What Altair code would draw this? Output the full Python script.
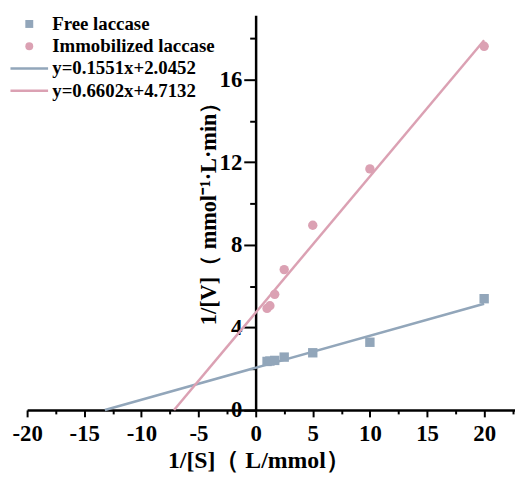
import altair as alt
import pandas as pd

# ---- data ----
inv_s = [1, 1.25, 1.67, 2.5, 5, 10, 20]
free_inv_v = [2.35, 2.37, 2.40, 2.56, 2.77, 3.28, 5.39]
imm_inv_v = [4.92, 5.05, 5.60, 6.80, 8.95, 11.68, 17.62]

free_name = "Free laccase"
imm_name = "Immobilized laccase"
free_fit = "y=0.1551x+2.0452"
imm_fit = "y=0.6602x+4.7132"

free_line_x = [-13.19, 20]
free_line_y = [0, 5.147]
imm_line_x = [-7.14, 20]
imm_line_y = [0, 17.917]

series_names = [free_name, imm_name, free_fit, imm_fit]
blue = "#92A6BA"
pink = "#DBA1B3"
series_colors = [blue, pink, blue, pink]

x_ticks = [-20 + 2.5 * i for i in range(18)]
y_ticks = [0, 2, 4, 6, 8, 10, 12, 14, 16, 18]

x_domain = [-20, 22.7]
y_domain = [0, 19.12]

W = 493
H = 398.7
x0_px = W * (0 - x_domain[0]) / (x_domain[1] - x_domain[0])

pts = pd.DataFrame({
    "x": inv_s + inv_s,
    "y": free_inv_v + imm_inv_v,
    "series": [free_name] * len(inv_s) + [imm_name] * len(inv_s),
})
lines = pd.DataFrame({
    "x": free_line_x + imm_line_x,
    "y": free_line_y + imm_line_y,
    "series": [free_fit] * 2 + [imm_fit] * 2,
})

FONT = "Liberation Serif"

xscale = alt.Scale(domain=x_domain, nice=False, zero=False)
yscale = alt.Scale(domain=y_domain, nice=False, zero=False)

xaxis = alt.Axis(
    values=x_ticks,
    labelExpr="datum.value % 5 === 0 ? '' + datum.value : ''",
    tickSize={"condition": {"test": "datum.value % 5 === 0", "value": 7}, "value": 4},
    tickWidth=2, tickColor="black",
    domainWidth=2.5, domainColor="black",
    labelFont=FONT, labelFontWeight="bold", labelFontSize=23, labelColor="black",
    labelPadding=6, labelFlush=False, labelOverlap=False,
    grid=False,
    title="1/[S]（ L/mmol）",
    titleFont=FONT, titleFontWeight="bold", titleFontSize=24, titleColor="black",
    titleX=233.7, titleY=58, titleBaseline="alphabetic",
)

yaxis = alt.Axis(
    values=y_ticks,
    offset=-x0_px,
    labelExpr="datum.value % 4 === 0 ? '' + datum.value : ''",
    tickSize={"condition": {"test": "datum.value % 4 === 0", "value": 12}, "value": 6},
    tickWidth=2, tickColor="black",
    domainWidth=2.5, domainColor="black",
    labelFont=FONT, labelFontWeight="bold", labelFontSize=23, labelColor="black",
    labelPadding=2, labelFlush=False, labelOverlap=False,
    grid=False,
    title="1/[V]（ mmol⁻¹·L·min）",
    titleFont=FONT, titleFontWeight="bold", titleFontSize=22.5, titleColor="black",
    titleX=-48, titleY=194.5, titleBaseline="middle", titleAngle=270,
)

is_fit = "indexof(datum.value, 'y=') === 0"
legend = alt.Legend(
    title=None,
    orient="none", legendX=-7.3, legendY=-0.8,
    labelFont=FONT, labelFontWeight="bold", labelFontSize=19, labelColor="black",
    labelLimit=400,
    labelOffset=13.7, rowPadding=2.5, symbolSize=64, symbolStrokeWidth=2.5,
    symbolOpacity=1,
    symbolType={"expr": f"{is_fit} ? 'M-4.75,0H4.75' : (datum.value === '{free_name}' ? 'square' : 'circle')"},
    symbolStrokeColor={"expr": f"{is_fit} ? scale('color', datum.value) : 'transparent'"},
)

color_scale = alt.Scale(domain=series_names, range=series_colors)

line_layer = alt.Chart(lines).mark_line(strokeWidth=2.5).encode(
    x=alt.X("x:Q", scale=xscale, axis=xaxis),
    y=alt.Y("y:Q", scale=yscale, axis=yaxis),
    stroke=alt.Stroke("series:N", scale=alt.Scale(domain=[free_fit, imm_fit], range=[blue, pink]), legend=None),
    detail="series:N",
)

point_layer = alt.Chart(pts).mark_point(filled=True, size=90, opacity=1).encode(
    x=alt.X("x:Q", scale=xscale, axis=xaxis),
    y=alt.Y("y:Q", scale=yscale, axis=yaxis),
    color=alt.Color("series:N", scale=color_scale, legend=legend),
    shape=alt.Shape("series:N", scale=alt.Scale(domain=[free_name, imm_name], range=["square", "circle"]), legend=None),
)

chart = alt.layer(line_layer, point_layer).properties(
    width=W, height=H,
    autosize=alt.AutoSizeParams(type="none"),
    padding={"left": 19.3, "top": 5, "right": 0, "bottom": 64},
    background="white",
).configure_view(stroke=None)

chart.save("out.html", embed_options={"renderer": "svg", "actions": False})
